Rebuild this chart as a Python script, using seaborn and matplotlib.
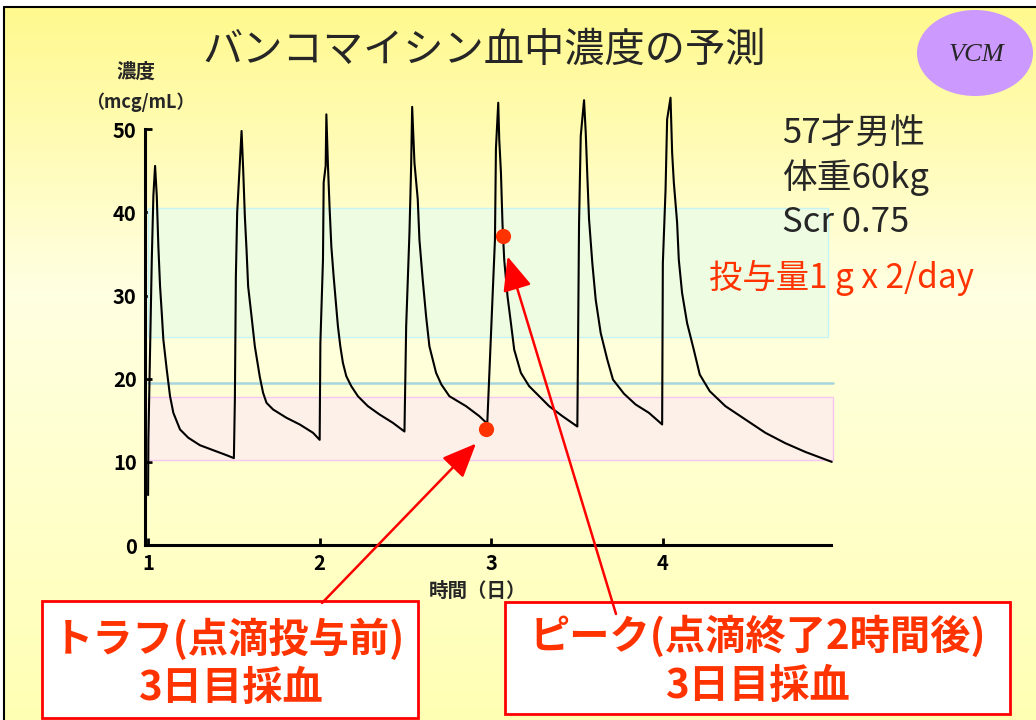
import numpy as np
import pandas as pd
import seaborn as sns
import matplotlib.pyplot as plt
from matplotlib.patches import Rectangle, Ellipse, ArrowStyle
from matplotlib.colors import LinearSegmentedColormap

# predicted serum level (x = day, y = mcg/mL)
day_1 = [1.000, 1.0017, 1.0215, 1.0308, 1.0407, 1.0506, 1.0599, 1.0698, 1.0797, 1.0890,
         1.1087, 1.1279, 1.1471, 1.1860, 1.2343, 1.3023, 1.3797, 1.4576, 1.5000]
conc_1 = [6.0, 12.7, 34.3, 42.0, 45.6, 42.0, 35.9, 31.1, 27.9, 24.7,
          21.1, 17.9, 15.9, 13.9, 12.9, 12.0, 11.4, 10.8, 10.45]
day_2 = [1.5058, 1.5116, 1.5192, 1.5448, 1.5541, 1.5640, 1.5738, 1.5831, 1.6029, 1.6221,
         1.6512, 1.6703, 1.6901, 1.7285, 1.8064, 1.8837, 1.9610, 2.0000]
conc_2 = [17.5, 32.3, 40.0, 49.8, 45.2, 39.5, 35.5, 31.1, 27.5, 23.9,
          20.2, 18.3, 17.1, 16.3, 15.3, 14.5, 13.5, 12.65]
day_3 = [2.0041, 2.0192, 2.0233, 2.0349, 2.0390, 2.0483, 2.0581, 2.0680, 2.0814, 2.0930,
         2.1064, 2.1203, 2.1355, 2.1552, 2.1843, 2.2227, 2.2808, 2.3488, 2.4262, 2.4942]
conc_3 = [24.3, 34.3, 43.6, 45.6, 51.8, 45.6, 40.4, 35.9, 32.3, 29.5,
          26.3, 23.9, 21.9, 20.3, 19.1, 17.9, 16.7, 15.7, 14.7, 13.65]
day_4 = [2.5041, 2.5233, 2.5331, 2.5390, 2.5523, 2.5715, 2.5814, 2.6006, 2.6203, 2.6395,
         2.6785, 2.7093, 2.7558, 2.8529, 2.9302, 2.9767]
conc_4 = [26.3, 37.6, 45.6, 52.7, 46.0, 41.6, 36.7, 31.9, 27.5, 23.9,
          20.7, 19.3, 17.9, 16.7, 15.5, 14.6]
day_5 = [3.0076, 3.0215, 3.0273, 3.0407, 3.0465, 3.0564, 3.0657, 3.0756, 3.0948, 3.1145,
         3.1337, 3.1727, 3.2209, 3.2890, 3.3372, 3.4145, 3.5017]
conc_5 = [29.9, 36.7, 47.7, 53.2, 48.8, 44.8, 38.5, 34.3, 29.9, 26.7,
          23.5, 20.7, 19.1, 17.7, 16.7, 15.5, 14.25]
day_6 = [3.5076, 3.5116, 3.5215, 3.5407, 3.5506, 3.5599, 3.5698, 3.5890, 3.6087, 3.6378,
         3.6762, 3.7093, 3.7733, 3.8413, 3.9186, 3.9959]
conc_6 = [28.7, 38.7, 49.2, 53.5, 49.6, 44.4, 39.2, 33.9, 29.5, 25.5,
          22.3, 19.9, 18.2, 16.9, 15.9, 14.5]
day_7 = [4.0000, 4.0157, 4.0250, 4.0448, 4.0541, 4.0640, 4.0831, 4.0930, 4.1122, 4.1413,
         4.1802, 4.2151, 4.2733, 4.3645, 4.4808, 4.5971, 4.7134, 4.8297, 4.9843]
conc_7 = [33.9, 42.7, 51.2, 53.8, 47.2, 43.6, 38.8, 34.3, 30.3, 26.7,
          23.5, 20.5, 18.5, 16.7, 15.1, 13.5, 12.25, 11.2, 10.0]

# sampling points (trough / peak on day 3)
sample_day = [2.969, 3.066]
sample_conc = [13.9, 37.2]

# target ranges
peak_range = (25.0, 40.5)
trough_range = (10.2, 17.8)
ref_level = 19.5

x_ticks = [1, 2, 3, 4]
y_ticks = [0, 10, 20, 30, 40, 50]

patient_info = ['57才男性', '体重60kg', 'Scr 0.75']
dose_text = '投与量1 g x 2/day'

df = pd.DataFrame({
    'day': day_1 + day_2 + day_3 + day_4 + day_5 + day_6 + day_7,
    'conc': conc_1 + conc_2 + conc_3 + conc_4 + conc_5 + conc_6 + conc_7,
})

sns.set_theme(style="white")
plt.rcParams['font.family'] = ['Noto Sans CJK JP', 'DejaVu Sans']

W, H = 1036, 720
fig = plt.figure(figsize=(W / 100, H / 100), dpi=100)
fig.patch.set_facecolor('white')

# slide background, pixel coordinates
bg = fig.add_axes([0, 0, 1, 1], zorder=0)
cmap = LinearSegmentedColormap.from_list('slide', [(0, '#FFF98E'), (0.4, '#FFFFE2'), (1, '#FFFFB4')])
bg.imshow(np.linspace(0, 1, 256).reshape(-1, 1), extent=[4, W, H, 7], cmap=cmap, aspect='auto')
bg.plot([4, 4], [7, H], color='black', lw=1.5)
bg.plot([4, W], [7, 7], color='black', lw=1.5)
bg.set_xlim(0, W)
bg.set_ylim(H, 0)
bg.axis('off')

bg.text(484, 50, 'バンコマイシン血中濃度の予測', fontsize=29, ha='center', va='center')
bg.add_patch(Ellipse((975, 53), 116, 86, facecolor='#CC99FF', edgecolor='none'))
bg.text(976, 55, 'VCM', family='Liberation Serif', style='italic', fontsize=19, ha='center', va='center')

bg.text(136, 72, '濃度', fontsize=14, fontweight='bold', ha='center', va='center')
bg.text(140, 102, '（mcg/mL）', fontsize=13, fontweight='bold', ha='center', va='center')
bg.text(478, 591, '時間（日）', fontsize=14, fontweight='bold', ha='center', va='center')

# chart
ax = fig.add_axes([145 / W, 1 - 545 / H, (831 - 145) / W, (545 - 129.3) / H], zorder=1)
ax.patch.set_alpha(0)

ax.add_patch(Rectangle((1.0, peak_range[0]), 3.965, peak_range[1] - peak_range[0],
                       facecolor='#EEFCE2', edgecolor='#C6F3F3', lw=1, zorder=1, clip_on=False))
ax.add_patch(Rectangle((1.0, trough_range[0]), 3.99, trough_range[1] - trough_range[0],
                       facecolor='#FDF0E8', edgecolor='#F6C6F0', lw=1, zorder=1, clip_on=False))
ax.plot([1.0, 4.99], [ref_level, ref_level], color='#A6D5DE', lw=1.8, zorder=2, clip_on=False)

sns.lineplot(data=df, x='day', y='conc', sort=False, estimator=None, color='black',
             lw=1.5, ax=ax, clip_on=False, zorder=3)
sns.scatterplot(x=sample_day, y=sample_conc, color='#FF3300', s=120, linewidth=0,
                ax=ax, zorder=4, clip_on=False)

ax.set_xlim(0.982, 4.98)
ax.set_ylim(0, 50)
ax.set_xticks(x_ticks)
ax.set_yticks(y_ticks)
ax.set_xlabel('')
ax.set_ylabel('')
for s in ['top', 'right']:
    ax.spines[s].set_visible(False)
for s in ['left', 'bottom']:
    ax.spines[s].set_linewidth(2.2)
    ax.spines[s].set_color('black')
ax.tick_params(bottom=True, left=True, direction='in', length=5, width=2,
               labelsize=14.5, colors='black')
ax.tick_params(axis='x', pad=6)
ax.tick_params(axis='y', pad=6)
for lbl in ax.get_xticklabels() + ax.get_yticklabels():
    lbl.set_fontweight('bold')

# texts over the chart, callout boxes and arrows
ov = fig.add_axes([0, 0, 1, 1], zorder=2)
ov.set_xlim(0, W)
ov.set_ylim(H, 0)
ov.axis('off')

for i, line in enumerate(patient_info):
    ov.text(782, 133 + i * 45, line, fontsize=25, ha='left', va='center')
ov.text(709, 278, dose_text, fontsize=24, color='#FF3300', ha='left', va='center')

ov.add_patch(Rectangle((42, 601), 376, 117, facecolor='white', edgecolor='#FF0000', lw=2))
ov.add_patch(Rectangle((505, 602), 505, 112, facecolor='white', edgecolor='#FF0000', lw=2))
box_font = dict(color='#FF3300', fontsize=29, fontweight='bold', ha='center', va='center')
ov.text(229, 640, 'トラフ(点滴投与前)', **box_font)
ov.text(230, 689, '3日目採血', **box_font)
ov.text(758, 637, 'ピーク(点滴終了2時間後)', **box_font)
ov.text(757, 686, '3日目採血', **box_font)

head = ArrowStyle('-|>', head_length=0.7, head_width=0.3)
arrow_kw = dict(arrowstyle=head, color='#FF0000', lw=1.8, mutation_scale=30, shrinkA=0, shrinkB=0)
ov.annotate('', xy=(2.911, 12.2), xycoords=ax.transData, xytext=(322, 603), textcoords='data',
            arrowprops=arrow_kw, annotation_clip=False)
ov.annotate('', xy=(3.095, 34.7), xycoords=ax.transData, xytext=(616, 614), textcoords='data',
            arrowprops=arrow_kw, annotation_clip=False)

fig.savefig('out.png', dpi=100)
